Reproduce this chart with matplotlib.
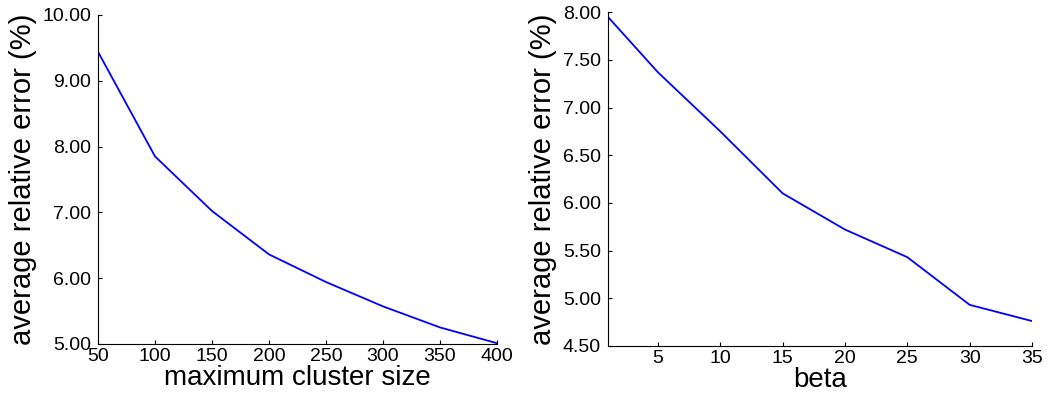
import matplotlib
matplotlib.use("Agg")
import matplotlib.pyplot as plt
from matplotlib.ticker import FormatStrFormatter

plt.rcParams['font.family'] = ['Liberation Sans', 'DejaVu Sans']

# left panel: maximum cluster size
cluster_size = [50, 100, 150, 200, 250, 300, 350, 400]
err_cluster = [9.44, 7.85, 7.02, 6.36, 5.94, 5.57, 5.25, 5.01]

# right panel: beta
beta = [1, 5, 10, 15, 20, 25, 30, 35]
err_beta = [7.95, 7.37, 6.75, 6.10, 5.72, 5.43, 4.93, 4.76]

fig = plt.figure(figsize=(10.47, 3.93), dpi=100)
ax1 = fig.add_axes([0.0936, 0.125, 0.3811, 0.837])
ax2 = fig.add_axes([0.5807, 0.120, 0.4050, 0.849])

def style(ax):
    ax.spines['top'].set_visible(False)
    ax.spines['right'].set_visible(False)
    ax.tick_params(direction='in', labelsize=14, length=3, top=False, right=False)
    ax.tick_params(axis='x', pad=3)
    ax.tick_params(axis='y', pad=5)
    ax.yaxis.set_major_formatter(FormatStrFormatter('%.2f'))
    ax.set_ylabel('average relative error (%)', fontsize=21, labelpad=4)

ax1.plot(cluster_size, err_cluster, color='#0000ff', lw=1.3)
ax1.set_xlim(50, 400)
ax1.set_ylim(5, 10)
ax1.set_xticks(cluster_size)
ax1.set_yticks([5, 6, 7, 8, 9, 10])
style(ax1)
ax1.set_xlabel('maximum cluster size', fontsize=20, labelpad=0)

ax2.plot(beta, err_beta, color='#0000ff', lw=1.3)
ax2.set_xlim(1, 35)
ax2.set_ylim(4.5, 8)
ax2.set_xticks([5, 10, 15, 20, 25, 30, 35])
ax2.set_yticks([4.5, 5, 5.5, 6, 6.5, 7, 7.5, 8])
style(ax2)
ax2.set_xlabel('beta', fontsize=20, labelpad=0)

fig.savefig('out.png', dpi=100)
